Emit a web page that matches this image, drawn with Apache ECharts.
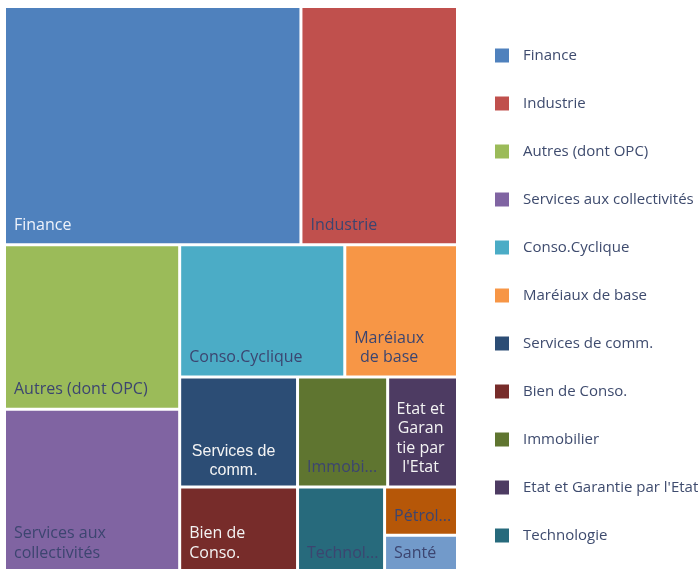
<!DOCTYPE html>
<html>
<head>
<meta charset="utf-8">
<script src="https://cdn.jsdelivr.net/npm/echarts@6/dist/echarts.min.js"></script>
<style>
  html, body { margin: 0; padding: 0; background: #ffffff; overflow: hidden; }
  #chart { width: 699px; height: 569px; }
</style>
</head>
<body>
<div id="chart"></div>
<script>
// ---- Data ----
const categories = [
  "Finance", "Industrie", "Autres (dont OPC)", "Services aux collectivités",
  "Conso.Cyclique", "Maréiaux de base", "Services de comm.", "Bien de Conso.",
  "Immobilier", "Etat et Garantie par l'Etat", "Technologie", "Pétrole", "Santé"
];
const weights = [27.55, 14.55, 11.23, 11.16, 8.51, 5.81, 5.06, 3.93, 3.87, 3.00, 2.90, 1.37, 1.06];
const cellLabels = [
  "Finance", "Industrie", "Autres (dont OPC)", "Services aux\ncollectivités",
  "Conso.Cyclique", "Maréiaux\nde base", "Services de\ncomm.", "Bien de\nConso.",
  "Immobi...", "Etat et\nGaran\ntie par\nl'Etat", "Technol...", "Pétrol...", "Santé"
];
const colors = [
  "#4F81BD", "#C0504D", "#9BBB59", "#8064A2", "#4BACC6", "#F79646", "#2C4D75",
  "#772C2A", "#5F7530", "#4D3B62", "#276A7C", "#B65708", "#729ACA"
];

// ---- Styles ----
const DARK = "#3C4570";
const LIGHT = "#EEF2FA";
const labelColor = [LIGHT, DARK, DARK, DARK, DARK, DARK, "#F4F4F4", "#F4F4F4", DARK, "#F4F4F4", DARK, DARK, DARK];
const labelPos = ["insideBottomLeft", "insideBottomLeft", "insideBottomLeft", "insideBottomLeft",
  "insideBottomLeft", "insideBottom", "insideBottom", "insideBottomLeft",
  "insideBottomLeft", "insideBottom", "insideBottomLeft", "insideBottomLeft", "insideBottomLeft"];
const centeredPadding = { 5: [0, 24, 5, 0], 6: [0, 10, 2, 0], 9: [0, 4, 5, 0] };

const treeData = categories.map((name, i) => {
  const lbl = {
    formatter: cellLabels[i],
    color: labelColor[i],
    position: labelPos[i]
  };
  if (labelPos[i] === "insideBottom") {
    lbl.align = "center";
    lbl.padding = centeredPadding[i];
  }
  if (i === 6) {
    lbl.fontFamily = "Liberation Sans";
  }
  return {
    name: name,
    value: weights[i],
    itemStyle: { color: colors[i] },
    label: lbl
  };
});

const dummySeries = categories.map((name, i) => ({
  type: "scatter",
  name: name,
  data: [],
  itemStyle: { color: colors[i], opacity: 1 }
}));

const chart = echarts.init(document.getElementById("chart"), null, { renderer: "canvas" });
chart.setOption({
  animation: false,
  backgroundColor: "#ffffff",
  grid: { left: 0, top: 0, width: 1, height: 1, show: false },
  xAxis: { show: false, type: "value" },
  yAxis: { show: false, type: "value" },
  legend: {
    orient: "vertical",
    left: 495,
    top: 48,
    padding: 0,
    itemWidth: 14,
    itemHeight: 14,
    itemGap: 33,
    icon: "rect",
    data: categories,
    itemStyle: { opacity: 1 },
    textStyle: {
      fontFamily: "Open Sans",
      fontSize: 15,
      color: "#3E4B6E",
      padding: [0, 0, 0, 9]
    },
    selectedMode: false
  },
  series: [{
    type: "treemap",
    left: 6,
    top: 8,
    width: 450,
    height: 563,
    squareRatio: 1,
    roam: false,
    nodeClick: false,
    breadcrumb: { show: false },
    label: {
      show: true,
      position: "insideBottomLeft",
      distance: 3,
      fontFamily: "Open Sans",
      fontSize: 16,
      lineHeight: 19.5,
      color: DARK,
      overflow: "none"
    },
    upperLabel: { show: false },
    levels: [
      { itemStyle: { borderWidth: 0, gapWidth: 3, borderColor: "#ffffff" } },
      { itemStyle: { borderWidth: 0, gapWidth: 0 } }
    ],
    data: treeData
  }].concat(dummySeries)
});
</script>
</body>
</html>
